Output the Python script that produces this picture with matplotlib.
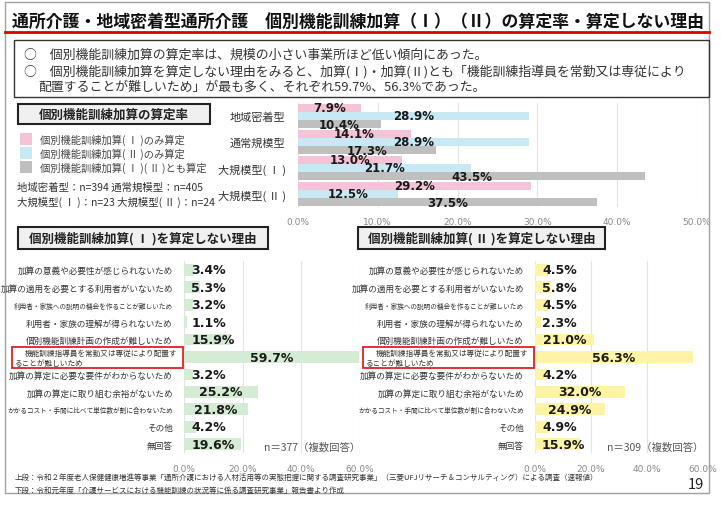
import matplotlib
matplotlib.use("Agg")
import matplotlib.pyplot as plt
from matplotlib.patches import Rectangle

plt.rcParams['font.family'] = ['Noto Sans CJK JP', 'DejaVu Sans']

# ---- data ----
scale_cats = ['地域密着型', '通常規模型', '大規模型( Ⅰ )', '大規模型( Ⅱ )']
only_1 = [7.9, 14.1, 13.0, 29.2]
only_2 = [28.9, 28.9, 21.7, 12.5]
both_12 = [10.4, 17.3, 43.5, 37.5]
legend_labels = ['個別機能訓練加算( Ⅰ )のみ算定', '個別機能訓練加算( Ⅱ )のみ算定',
                 '個別機能訓練加算( Ⅰ )( Ⅱ )とも算定']

reasons = ['加算の意義や必要性が感じられないため',
           '加算の適用を必要とする利用者がいないため',
           '利用者・家族への説明の機会を作ることが難しいため',
           '利用者・家族の理解が得られないため',
           '個別機能訓練計画の作成が難しいため',
           '機能訓練指導員を常勤又は専従により配置することが難しいため',
           '加算の算定に必要な要件がわからないため',
           '加算の算定に取り組む余裕がないため',
           'かかるコスト・手間に比べて単位数が割に合わないため',
           'その他',
           '無回答']
reason_1 = [3.4, 5.3, 3.2, 1.1, 15.9, 59.7, 3.2, 25.2, 21.8, 4.2, 19.6]
reason_2 = [4.5, 5.8, 4.5, 2.3, 21.0, 56.3, 4.2, 32.0, 24.9, 4.9, 15.9]
n_1 = 'n＝377（複数回答）'
n_2 = 'n＝309（複数回答）'

W, H = 721, 506
fig = plt.figure(figsize=(W / 100, H / 100), dpi=100)
fig.patch.set_facecolor('white')


def ax_px(l, t, r, b):
    return fig.add_axes([l / W, 1 - b / H, (r - l) / W, (b - t) / H])


def ftext(x, y, s, **kw):
    return fig.text(x / W, 1 - y / H, s, **kw)


def frect(l, t, r, b, **kw):
    fig.patches.append(Rectangle((l / W, 1 - b / H), (r - l) / W, (b - t) / H,
                                 transform=fig.transFigure, figure=fig, **kw))


# outer frame, title, summary box
frect(5, 3, 709, 494, fill=False, ec='#a0a0a0', lw=1)
ftext(12, 22, '通所介護・地域密着型通所介護　個別機能訓練加算（Ⅰ）（Ⅱ）の算定率・算定しない理由',
      fontsize=12.2, fontweight='bold', va='center', color='#111111')
fig.lines.append(plt.Line2D([5 / W, 709 / W], [1 - 33 / H, 1 - 33 / H],
                            transform=fig.transFigure, color='#e00000', lw=2))
frect(14, 41, 709, 98, fill=False, ec='#333333', lw=1)
ftext(24, 55, '○　個別機能訓練加算の算定率は、規模の小さい事業所ほど低い傾向にあった。',
      fontsize=9.3, va='center', color='#333333')
ftext(24, 72, '○　個別機能訓練加算を算定しない理由をみると、加算(Ⅰ)・加算(Ⅱ)とも「機能訓練指導員を常勤又は専従により',
      fontsize=9.3, va='center', color='#333333')
ftext(38, 87, '配置することが難しいため」が最も多く、それぞれ59.7%、56.3%であった。',
      fontsize=9.3, va='center', color='#333333')

# ---- top chart ----
pink, blue, grey = '#f5c3d7', '#c8e9f3', '#bfbfbf'
frect(18, 105, 210, 125, fc='#f0f0f0', ec='#222222', lw=1.5)
ftext(114, 115, '個別機能訓練加算の算定率', fontsize=9, fontweight='bold',
      ha='center', va='center', color='#222222')
for i, (lab, col) in enumerate(zip(legend_labels, [pink, blue, grey])):
    y = 140 + i * 14
    frect(20, y - 6, 32, y + 6, fc=col, ec='none')
    ftext(40, y, lab, fontsize=7.4, va='center', color='#444444')
ftext(17, 188, '地域密着型：n=394 通常規模型：n=405', fontsize=7.5, va='center', color='#333333')
ftext(17, 202, '大規模型( Ⅰ )：n=23 大規模型( Ⅱ )：n=24', fontsize=7.5, va='center', color='#333333')

ax = ax_px(298, 104, 697, 208)
bh = 0.32
ys = list(range(len(scale_cats)))
for off, vals, col in [(-bh, only_1, pink), (0, only_2, blue), (bh, both_12, grey)]:
    pos = [y + off for y in ys]
    ax.barh(pos, vals, height=bh, color=col, zorder=2)
    for p, v in zip(pos, vals):
        ax.text(v / 2, p, f'{v:.1f}%', ha='center', va='center', fontsize=8.5,
                fontweight='bold', family='DejaVu Sans', color='#1a1a1a', zorder=3)
ax.set_ylim(len(scale_cats) - 0.5, -0.5)
ax.set_xlim(0, 50)
ax.set_xticks(range(0, 51, 10))
ax.set_xticklabels([f'{t:.1f}%' for t in range(0, 51, 10)], family='DejaVu Sans')
ax.set_yticks(ys)
ax.set_yticklabels(scale_cats)
ax.tick_params(axis='x', length=0, labelsize=6.5, labelcolor='#888888', pad=7)
ax.tick_params(axis='y', length=0, labelsize=8, labelcolor='#333333', pad=9)
ax.grid(axis='x', color='#e3e3e3', lw=0.8, zorder=0)
for s in ax.spines.values():
    s.set_visible(False)

# ---- bottom charts ----
small = [6.2, 6.2, 4.8, 6.2, 6.2, 0, 6.2, 6.2, 4.8, 6.2, 6.2]


def reason_chart(l, r, vals, col, title, box, nlab):
    frect(box[0], 228, box[1], 250, fc='#f0f0f0', ec='#222222', lw=1.5)
    ftext((box[0] + box[1]) / 2, 239, title, fontsize=9, fontweight='bold',
          ha='center', va='center', color='#222222')
    a = ax_px(l, 262, r, 454)
    yy = list(range(len(reasons)))
    a.barh(yy, vals, height=0.68, color=col, zorder=2)
    for y, v in zip(yy, vals):
        if v < 17:
            a.text(2.5, y, f'{v:.1f}%', ha='left', va='center', fontsize=9,
                   fontweight='bold', family='DejaVu Sans', color='#1a1a1a', zorder=3)
        else:
            a.text(v / 2, y, f'{v:.1f}%', ha='center', va='center', fontsize=9,
                   fontweight='bold', family='DejaVu Sans', color='#1a1a1a', zorder=3)
    a.set_ylim(len(reasons) - 0.5, -0.5)
    a.set_xlim(0, 60)
    a.set_xticks([0, 20, 40, 60])
    a.set_xticklabels(['0.0%', '20.0%', '40.0%', '60.0%'], family='DejaVu Sans')
    a.set_yticks(yy)
    a.set_yticklabels(['' if s == 0 else t for t, s in zip(reasons, small)])
    for t, s in zip(a.get_yticklabels(), small):
        if s:
            t.set_fontsize(s)
    a.tick_params(axis='x', length=0, labelsize=6.5, labelcolor='#888888', pad=8)
    a.tick_params(axis='y', length=0, labelcolor='#333333', pad=8)
    a.grid(axis='x', color='#e3e3e3', lw=0.8, zorder=0)
    for s in a.spines.values():
        s.set_visible(False)
    a.text(1.0, 0.03, nlab, transform=a.transAxes, ha='right', va='center',
           fontsize=7.5, color='#555555')
    # highlighted reason
    bx = l - 172
    frect(bx, 348, l - 1, 369, fill=False, ec='#e02020', lw=1.3)
    ftext(bx + 13, 353.5, '機能訓練指導員を常勤又は専従により配置す', fontsize=5.5,
          va='center', color='#333333')
    ftext(bx + 2, 363.5, 'ることが難しいため', fontsize=5.5, va='center', color='#333333')


reason_chart(184, 360, reason_1, '#d4ebd4', '個別機能訓練加算( Ⅰ )を算定しない理由',
             (18, 268), n_1)
reason_chart(535, 703, reason_2, '#fff3a6', '個別機能訓練加算( Ⅱ )を算定しない理由',
             (358, 605), n_2)

# footer
ftext(15, 478, '上段：令和２年度老人保健健康増進等事業「通所介護における人材活用等の実態把握に関する調査研究事業」（三菱UFJリサーチ＆コンサルティング）による調査（速報値）',
      fontsize=5.4, va='center', color='#333333')
ftext(15, 491, '下段：令和元年度「介護サービスにおける機能訓練の状況等に係る調査研究事業」報告書より作成',
      fontsize=5.4, va='center', color='#333333')
ftext(704, 485, '19', fontsize=10.5, ha='right', va='center', color='#222222')

fig.savefig('out.png', dpi=100)
